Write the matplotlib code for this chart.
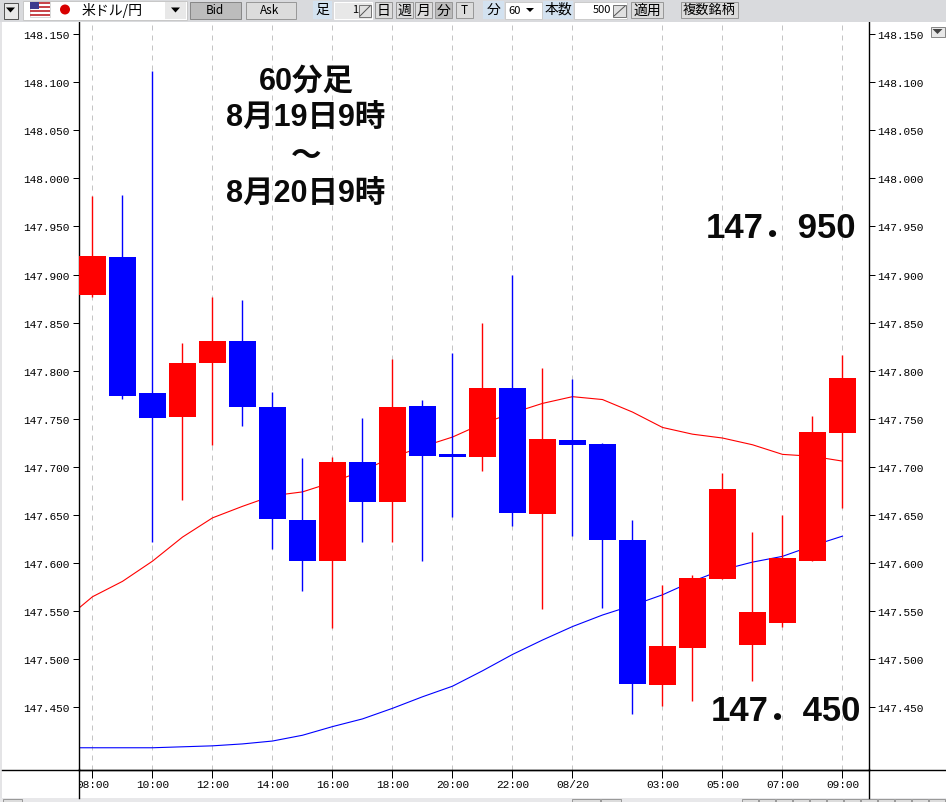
import numpy as np
import matplotlib
matplotlib.use("Agg")
import matplotlib.pyplot as plt
from matplotlib.patches import Rectangle, Circle, Polygon
from matplotlib.transforms import Bbox

# 60 minute candles, 8/19 08:00 .. 8/20 09:00
opens = [147.879, 147.918, 147.777, 147.752, 147.808, 147.831, 147.762, 147.645, 147.602,
         147.705, 147.664, 147.763, 147.713, 147.710, 147.782, 147.651, 147.728, 147.724,
         147.624, 147.473, 147.512, 147.583, 147.515, 147.538, 147.602, 147.735]
closes = [147.919, 147.774, 147.751, 147.808, 147.831, 147.762, 147.646, 147.602, 147.705,
          147.664, 147.762, 147.711, 147.710, 147.782, 147.652, 147.729, 147.723, 147.624,
          147.474, 147.514, 147.585, 147.677, 147.549, 147.605, 147.736, 147.792]
highs = [147.982, 147.983, 148.112, 147.829, 147.877, 147.874, 147.778, 147.709, 147.710,
         147.751, 147.812, 147.770, 147.818, 147.850, 147.900, 147.803, 147.791, 147.725,
         147.645, 147.577, 147.588, 147.694, 147.632, 147.650, 147.753, 147.816]
lows = [147.877, 147.771, 147.622, 147.666, 147.723, 147.743, 147.615, 147.571, 147.533,
        147.622, 147.622, 147.602, 147.648, 147.696, 147.639, 147.552, 147.628, 147.553,
        147.443, 147.451, 147.457, 147.583, 147.477, 147.534, 147.602, 147.657]

# moving averages, first value sits left of the axis and gets clipped
ma_red = [147.539, 147.565, 147.581, 147.602, 147.627, 147.647, 147.659, 147.670, 147.674,
          147.684, 147.696, 147.710, 147.721, 147.731, 147.745, 147.756, 147.766, 147.773,
          147.770, 147.757, 147.741, 147.734, 147.730, 147.723, 147.713, 147.711, 147.706]
ma_blue = [147.408, 147.408, 147.408, 147.408, 147.409, 147.410, 147.412, 147.415, 147.421,
           147.430, 147.438, 147.449, 147.461, 147.472, 147.488, 147.505, 147.520, 147.534,
           147.546, 147.556, 147.567, 147.581, 147.593, 147.601, 147.607, 147.618, 147.628]

x_ticks = [0, 2, 4, 6, 8, 10, 12, 14, 16, 19, 21, 23, 25]
x_labels = ["08:00", "10:00", "12:00", "14:00", "16:00", "18:00", "20:00", "22:00", "08/20",
            "03:00", "05:00", "07:00", "09:00"]
y_ticks = [147.45, 147.50, 147.55, 147.60, 147.65, 147.70, 147.75, 147.80, 147.85, 147.90,
           147.95, 148.00, 148.05, 148.10, 148.15]

W, H = 946, 803
TICK_FONT = "Liberation Mono"
JP = ["Noto Sans CJK JP", "DejaVu Sans"]
BIG = ["Liberation Sans", "Noto Sans CJK JP"]
LINE = 0.72  # one pixel at 100 dpi

fig = plt.figure(figsize=(W / 100, H / 100), dpi=100, facecolor="white")
ax = fig.add_axes([79 / W, (H - 770.5) / H, 789.5 / W, 747.5 / H])
ax.set_xlim(-0.45, 25.867)
ax.set_ylim(147.3854, 148.1625)

x = np.arange(len(opens))
o, c, hi, lo = map(np.array, (opens, closes, highs, lows))
up = c >= o

ax.vlines(x_ticks, 147.3854, 148.1625, color="#c4c4c4", lw=LINE, linestyles=(0, (5, 5)), zorder=1)
ma_x = np.arange(-1, len(opens))
ax.plot(ma_x, ma_red, color="#ff0000", lw=0.8, zorder=2)
ax.plot(ma_x, ma_blue, color="#0000ff", lw=0.8, zorder=2)

for mask, col in ((up, "#ff0000"), (~up, "#0000ff")):
    ax.vlines(x[mask], lo[mask], hi[mask], color=col, lw=1.0, zorder=3)
    ax.bar(x[mask], np.abs(c - o)[mask], bottom=np.minimum(c, o)[mask], width=0.9, color=col,
           linewidth=0, zorder=4)

ax.spines["top"].set_visible(False)
for s in ("left", "right", "bottom"):
    ax.spines[s].set_linewidth(1.0)

ax.set_xticks(x_ticks, x_labels, fontfamily=TICK_FONT, fontsize=8)
ax.tick_params(axis="x", length=5.5, width=LINE, pad=1.5)
ax.set_yticks(y_ticks, [f"{v:.3f}" for v in y_ticks], fontfamily=TICK_FONT, fontsize=8)
ax.tick_params(axis="y", length=4.5, width=LINE, pad=2, left=True, right=True,
               labelleft=True, labelright=True)
# the first label runs under the left axis line in the original
first = ax.get_xticklabels()[0]
first.set_clip_on(True)
first.set_clip_box(Bbox([[80, 0], [W, H]]))

# overlay in pixel coordinates for the window chrome and the big captions
ov = fig.add_axes([0, 0, 1, 1], facecolor="none")
ov.set_xlim(0, W)
ov.set_ylim(H, 0)
ov.axis("off")

TOOLBAR = "#d9dadd"
PRESSED = "#bcbcbc"
BUTTON = "#dcdcdc"
BLUE_BG = "#d3e2f0"


def box(x0, y0, x1, y1, fc, ec=None, lw=LINE):
    ov.add_patch(Rectangle((x0, y0), x1 - x0, y1 - y0, fc=fc, ec=ec if ec else "none", lw=lw))


def label(xc, yc, s, size=10, ha="center", **kw):
    ov.text(xc, yc, s, fontsize=size, ha=ha, va="center", family=JP, **kw)


def tri(xc, yc, w=4.5, h=5, col="black"):
    ov.add_patch(Polygon([(xc - w, yc - h / 2), (xc + w, yc - h / 2), (xc, yc + h / 2)], fc=col, ec="none"))


# toolbar and the grey edges
box(0, 0, W, 23, TOOLBAR)
box(0, 23, 2, 799, "#e4e4e6")
box(0, 799, W, H, "#e8e8ea")
# axis lines running past the plot
ov.plot([2, W], [770.5, 770.5], color="black", lw=1.0)
ov.plot([79, 79], [770, 799], color="black", lw=1.0)
ov.plot([868.5, 868.5], [770, 799], color="black", lw=1.0)

# bottom strip buttons
box(3, 799.5, 22, 804, BUTTON, "#999999")
box(572, 799.5, 600, 804, BUTTON, "#999999")
box(601, 799.5, 621, 804, BUTTON, "#999999")
for bx in range(742, 946, 17):
    box(bx, 799.5, bx + 16, 804, BUTTON, "#999999")

box(3.5, 3.5, 17.5, 19.5, "#e8e8e8", "#555555")
tri(10.5, 11)
box(23, 2, 187, 21, "white", "#c8c8c8")
# flags
box(30, 3, 50, 18, "white", "#bbbbbb", 0.4)
for yy in (3, 7, 11, 15):
    box(30, yy, 50, yy + 2, "#c8464b")
box(30, 3, 39, 10, "#3c3b8e")
ov.add_patch(Circle((65, 10.5), 5, fc="#d80000", ec="none"))
label(82, 10, "米ドル/円", ha="left", size=10)
box(165, 3, 186, 20, "#e8e8e8")
tri(175.5, 11)

box(189.5, 2.5, 241, 19.5, PRESSED, "#888888")
label(215, 11, "Bid", size=8.5)
box(245.5, 2.5, 296, 19.5, BUTTON, "#999999")
label(270, 11, "Ask", size=8.5)

box(313, 2, 332, 20, BLUE_BG)
label(322.5, 10, "足", size=10)
box(334, 3, 372, 20, "#e8e8e8", "white")
label(355, 10, "1", size=8)
box(359, 6, 371, 18, "#e0e0e0", "#777777")
ov.plot([360, 370], [17, 7], color="#555555", lw=LINE)
for xc, s, pressed in ((383.5, "日", False), (404, "週", False), (423.5, "月", False), (443.5, "分", True), (464, "T", False)):
    box(xc - 8.5, 3, xc + 8.5, 19, PRESSED if pressed else BUTTON, "#999999")
    label(xc, 10.5, s, size=10 if s != "T" else 8.5)

box(483, 2, 504, 20, BLUE_BG)
label(493.5, 10, "分", size=10)
box(505, 2.5, 542, 20, "white", "#cccccc")
label(515, 11, "60", size=8)
tri(530, 11, 4, 4)
box(543, 2, 573, 20, BLUE_BG)
label(558, 10, "本数", size=10)
box(574, 3, 627, 20, "white", "#cccccc")
label(602, 10, "500", size=8)
box(613, 6, 626, 18, "#e0e0e0", "#777777")
ov.plot([614, 625], [17, 7], color="#555555", lw=LINE)
box(630.5, 3, 663, 19, BUTTON, "#999999")
label(647, 10.5, "適用", size=10)
box(680.5, 3, 738, 19, BUTTON, "#999999")
label(709, 10.5, "複数銘柄", size=9.5)

box(930.5, 27.5, 945, 38, "#e8e8e8", "#888888")
tri(937.5, 32.5, 5, 5, "#444444")

# captions typed over the chart
for yc, s in ((82, "60分足"), (119, "8月19日9時"), (157, "～"), (195, "8月20日9時")):
    ov.text(306, yc, s, fontsize=22, fontweight="bold", ha="center", va="center", family=BIG, color="#0a0a0a")
ov.text(780.5, 228, "147．950", fontsize=25, fontweight="bold", ha="center", va="center", family=BIG, color="#0a0a0a")
ov.text(785.5, 712, "147．450", fontsize=25, fontweight="bold", ha="center", va="center", family=BIG, color="#0a0a0a")

fig.savefig("out.png", dpi=100)
